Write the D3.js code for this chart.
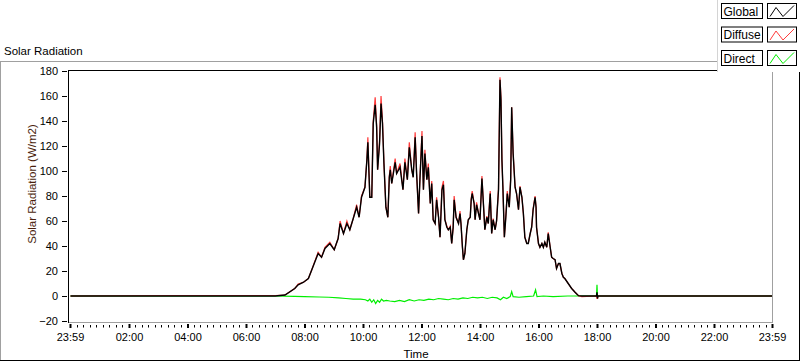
<!DOCTYPE html>
<html>
<head>
<meta charset="utf-8">
<script src="https://cdn.jsdelivr.net/npm/d3@7"></script>
<style>
  body { margin: 0; background: #fff; }
  svg { display: block; font-family: "Liberation Sans", Arial, sans-serif; }
</style>
</head>
<body>
<div id="chart"></div>
<script>
// ---- data ----
const times = [
  "00:00","03:30","07:00","07:20","07:40","07:47","07:58","08:08","08:15","08:20",
  "08:28","08:35","08:42","08:52","09:01","09:09","09:13","09:20","09:27","09:33",
  "09:40","09:47","09:52","09:57","10:04","10:08","10:10","10:14","10:18","10:21",
  "10:25","10:28","10:30","10:34","10:37","10:40","10:43","10:47","10:51","10:54",
  "10:56","10:59","11:06","11:09","11:16","11:22","11:26","11:31","11:35","11:40",
  "11:43","11:47","11:50","11:54","11:57","12:01","12:04","12:07","12:11","12:14",
  "12:18","12:21","12:24","12:28","12:31","12:35","12:38","12:42","12:45","12:48",
  "12:52","12:55","12:59","13:02","13:05","13:07","13:11","13:16","13:19","13:21",
  "13:24","13:26","13:29","13:33","13:36","13:40","13:42","13:44","13:48","13:50",
  "13:53","13:57","14:00","14:04","14:07","14:10","14:14","14:17","14:21","14:24",
  "14:27","14:31","14:34","14:38","14:41","14:43","14:45","14:47","14:50","14:53",
  "14:56","15:00","15:03","15:05","15:08","15:12","15:15","15:19","15:22","15:26",
  "15:29","15:32","15:36","15:39","15:43","15:46","15:49","15:53","15:55","15:56",
  "16:00","16:03","16:07","16:10","16:13","16:17","16:20","16:24","16:27","16:30",
  "16:34","16:37","16:41","16:44","16:48","16:51","16:54","17:01","17:08","17:15",
  "17:22","17:29","17:59","18:00","18:01","18:02","23:59"
]

const globalValues = [
  0, 0, 0, 0.8, 6, 9, 11, 14, 21, 26,
  34, 31, 38, 42, 37, 46, 58, 50, 58, 53,
  62, 71, 63, 79, 87, 109, 123, 79, 79, 138,
  153, 135, 101, 122, 154, 138, 106, 71, 63, 95,
  101, 90, 107, 98, 103, 85, 107, 93, 119, 101,
  95, 127, 98, 66, 95, 128, 85, 114, 93, 103,
  74, 90, 61, 58, 77, 63, 47, 85, 89, 61,
  55, 53, 55, 42, 55, 77, 63, 58, 66, 58,
  39, 29, 34, 53, 61, 63, 77, 82, 74, 61,
  73, 66, 61, 94, 74, 53, 63, 58, 82, 50,
  61, 53, 60, 85, 173, 157, 109, 87, 47, 63,
  82, 71, 93, 151, 114, 87, 82, 69, 87, 79,
  66, 47, 42, 42, 50, 55, 69, 79, 71, 55,
  42, 39, 42, 39, 43, 39, 50, 39, 31, 30,
  29, 22, 26, 26, 18, 15, 14, 10, 6, 3,
  0.3, 0, 0, 3, -2, 0, 0
]

// diffuse sits on the global trace, only peeking out at the peaks
const diffuseValues = [
  0, 0.4, 0.4, 0.8, 6, 9.5, 11, 14, 21, 26.5,
  35, 31, 39, 43, 37, 46, 60, 50, 60, 53,
  62, 73, 63, 80, 87, 109, 127, 79, 79, 140,
  159, 137, 101, 124, 160, 140, 106, 71, 63, 96,
  104, 90, 110, 98, 106, 85, 110, 93, 123, 101,
  95, 131, 98, 66, 96, 132, 85, 117, 93, 106,
  74, 92, 61, 58, 79, 63, 47, 87, 92, 61,
  56, 53, 56, 42, 55, 80, 63, 58, 68, 58,
  39, 29, 34, 53, 61, 63, 78, 84, 74, 61,
  75, 66, 61, 96, 74, 53, 64, 58, 84, 50,
  62, 53, 60, 86, 175, 159, 109, 87, 47, 64,
  84, 71, 95, 151, 114, 87, 82, 69, 88, 79,
  66, 47, 42, 42, 50, 55, 70, 80, 71, 55,
  42, 39, 42, 39, 43, 39, 51, 39, 31, 30,
  29, 22, 26, 26, 18, 15, 14, 10, 6, 3,
  0.3, -0.5, 0, -2, -2, 0, 0
]

const directTimes = [
  "00:00","07:00","07:40","08:00","08:30","08:50","09:10","09:25","09:40","09:55",
  "10:05","10:10","10:14","10:18","10:22","10:26","10:30","10:34","10:38","10:42",
  "10:48","10:55","11:05","11:15","11:25","11:35","11:45","11:55","12:05","12:15",
  "12:25","12:35","12:45","12:55","13:05","13:15","13:25","13:35","13:45","13:55",
  "14:05","14:15","14:25","14:35","14:42","14:48","14:55","15:02","15:05","15:08",
  "15:20","15:35","15:50","15:54","15:57","16:10","16:30","17:00","17:20","17:59",
  "18:00","18:01","23:59"
]
const directValues = [
  0, 0, -0.3, -0.5, -0.8, -1, -1.5, -2, -2.5, -2.5,
  -3, -4, -2.5, -5, -3, -6, -3.5, -5, -2.5, -4,
  -3.5, -4, -4.5, -3.5, -4.5, -3, -4, -3, -3.5, -2.5,
  -3, -2, -2.5, -3, -2, -2.5, -1.5, -2, -1, -1.5,
  -1, -2, -1, -1.5, -3, -1, -2, -0.5, 3.5, -0.5,
  -1, -0.5, 0, 5, -0.5, 0, -0.5, 0, 0, 0,
  9, 0, 0
]

const yTicks = [-20, 0, 20, 40, 60, 80, 100, 120, 140, 160, 180]
const xTickLabels = ["23:59", "02:00", "04:00", "06:00", "08:00", "10:00", "12:00",
  "14:00", "16:00", "18:00", "20:00", "22:00", "23:59"]
const legendNames = ["Global", "Diffuse", "Direct"]
const seriesColors = ["#000000", "#ff3b3b", "#00ee00"]

// ---- layout ----
const width = 800, height = 361

function toMinutes(t) {
  const p = t.split(":")
  return +p[0] * 60 + +p[1]
}
// first label is 23:59 of the previous day
const xTickMinutes = xTickLabels.map((t, i) => i == 0 ? -1 : toMinutes(t))

const xScale = d3.scaleLinear().domain([-1, 1439]).range([70, 772])
const yScale = d3.scaleLinear().domain([-20, 180]).range([321, 71])

const svg = d3.select("#chart")
  .append("svg")
  .attr("width", width)
  .attr("height", height)
  .attr("viewBox", [0, 0, width, height])

svg.append("rect").attr("width", width).attr("height", height).attr("fill", "#fff")

// outer frame: light top/left, dark bottom/right
svg.append("line").attr("x1", 0).attr("x2", 718).attr("y1", 61.5).attr("y2", 61.5).attr("stroke", "#a0a0a0")
svg.append("line").attr("x1", 0.5).attr("x2", 0.5).attr("y1", 61).attr("y2", 360).attr("stroke", "#a0a0a0")
svg.append("line").attr("x1", 0).attr("x2", 800).attr("y1", 360.5).attr("y2", 360.5).attr("stroke", "#000")
svg.append("line").attr("x1", 799.5).attr("x2", 799.5).attr("y1", 70).attr("y2", 361).attr("stroke", "#000")
svg.append("line").attr("x1", 68).attr("x2", 800).attr("y1", 70.5).attr("y2", 70.5).attr("stroke", "#000")

// plot area frame
svg.append("line").attr("x1", 772.5).attr("x2", 772.5).attr("y1", 70).attr("y2", 322.5).attr("stroke", "#a0a0a0")
svg.append("line").attr("x1", 68).attr("x2", 773).attr("y1", 322.5).attr("y2", 322.5).attr("stroke", "#a0a0a0")
svg.append("line").attr("x1", 68.5).attr("x2", 68.5).attr("y1", 70).attr("y2", 323).attr("stroke", "#000")

svg.append("text")
  .attr("x", 4)
  .attr("y", 55)
  .attr("font-size", 11.5)
  .attr("fill", "#000")
  .text("Solar Radiation")

// y axis
const yaxis = d3.axisLeft(yScale)
  .tickValues(yTicks)
  .tickSize(5)
  .tickPadding(4)

const gy = svg.append("g")
  .attr("transform", "translate(67,0)")
  .call(yaxis)
gy.select(".domain").remove()
gy.selectAll(".tick line").attr("stroke", "#000").attr("shape-rendering", "crispEdges")
gy.selectAll("text").attr("font-size", 11).attr("fill", "#000").attr("font-family", "Liberation Sans, Arial, sans-serif")

svg.append("text")
  .attr("transform", "translate(36,184) rotate(-90)")
  .attr("text-anchor", "middle")
  .attr("font-size", 11.5)
  .attr("fill", "#4a1e0c")
  .text("Solar Radiation (W/m2)")

// x axis
const xaxis = d3.axisBottom(xScale)
  .tickValues(xTickMinutes)
  .tickSize(4)
  .tickPadding(5.5)
  .tickFormat((d, i) => xTickLabels[i])

const gx = svg.append("g")
  .attr("transform", "translate(0,324)")
  .call(xaxis)
gx.select(".domain").remove()
gx.selectAll(".tick line").attr("stroke", "#000").attr("stroke-width", 2)
gx.selectAll("text").attr("font-size", 11).attr("fill", "#000").attr("font-family", "Liberation Sans, Arial, sans-serif")

// minor ticks, 9 steps between labels
const minorTicks = []
for (let i = 0; i < xTickMinutes.length - 1; i++) {
  const a = xTickMinutes[i], b = xTickMinutes[i + 1]
  for (let k = 1; k < 9; k++) minorTicks.push(a + (b - a) * k / 9)
}
svg.append("g").selectAll("line")
  .data(minorTicks)
  .enter().append("line")
  .attr("x1", d => Math.round(xScale(d)) + 0.5)
  .attr("x2", d => Math.round(xScale(d)) + 0.5)
  .attr("y1", 325)
  .attr("y2", 327.5)
  .attr("stroke", "#000")

svg.append("text")
  .attr("x", 416)
  .attr("y", 358)
  .attr("text-anchor", "middle")
  .attr("font-size", 11.5)
  .attr("fill", "#000")
  .text("Time")

// lines
svg.append("clipPath").attr("id", "plot-clip")
  .append("rect").attr("x", 69).attr("y", 71).attr("width", 703).attr("height", 251)

function series(tArr, vArr) {
  return tArr.map((t, i) => ({ m: toMinutes(t), v: vArr[i] }))
}
const line = d3.line()
  .x(d => xScale(d.m))
  .y(d => yScale(d.v))

const plots = [
  { data: series(directTimes, directValues), color: seriesColors[2], w: 1.2 },
  { data: series(times, diffuseValues), color: seriesColors[1], w: 1.2 },
  { data: series(times, globalValues), color: seriesColors[0], w: 1.4 }
]
const gLines = svg.append("g").attr("clip-path", "url(#plot-clip)")
plots.forEach(p => {
  gLines.append("path")
    .datum(p.data)
    .attr("d", line)
    .attr("fill", "none")
    .attr("stroke", p.color)
    .attr("stroke-width", p.w)
    .attr("stroke-linejoin", "miter")
})

// legend panel in the top right corner
const legend = svg.append("g")
legend.append("rect").attr("x", 717).attr("y", 0).attr("width", 83).attr("height", 72).attr("fill", "#fff")
legend.append("line").attr("x1", 717.5).attr("x2", 717.5).attr("y1", 0).attr("y2", 72).attr("stroke", "#d4d4d4")

legendNames.forEach((name, i) => {
  const top = 3.5 + i * 23.5
  legend.append("rect")
    .attr("x", 721.5).attr("y", top).attr("width", 41).attr("height", 15)
    .attr("fill", "#fff").attr("stroke", "#000")
  legend.append("text")
    .attr("x", 723.5).attr("y", top + 12)
    .attr("font-size", 12)
    .text(name)
  legend.append("rect")
    .attr("x", 767.5).attr("y", top).attr("width", 29).attr("height", 15)
    .attr("fill", "#fff").attr("stroke", "#000")
  const pts = [[770, 13], [776, 4], [783, 13], [794, 2]]
  legend.append("path")
    .attr("d", d3.line()(pts.map(p => [p[0], top + p[1]])))
    .attr("fill", "none")
    .attr("stroke", seriesColors[i])
    .attr("stroke-width", 1)
})
</script>
</body>
</html>
